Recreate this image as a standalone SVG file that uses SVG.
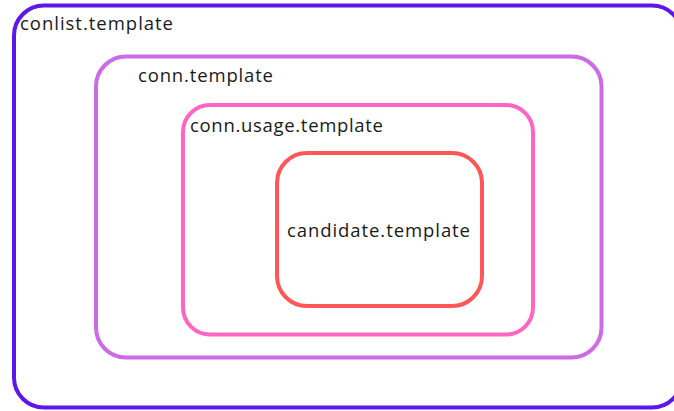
<svg xmlns="http://www.w3.org/2000/svg" width="674" height="411" viewBox="0 0 674 411">
  <style>
    .box { fill: none; stroke-width: 4; }
    .label { font-family: "Open Sans", "Liberation Sans", sans-serif; font-size: 18.5px; fill: #1a1a1a; }
  </style>
  <rect width="674" height="411" fill="#ffffff"/>
  <g id="conlist">
    <rect class="box" x="14" y="5.5" width="668" height="402" rx="30" stroke="#5e17eb"/>
    <text class="label" x="20" y="30" textLength="153" lengthAdjust="spacing">conlist.template</text>
  </g>
  <g id="conn">
    <rect class="box" x="96" y="56.5" width="505.5" height="301" rx="30" stroke="#cb6ce6"/>
    <text class="label" x="138" y="82" textLength="135" lengthAdjust="spacing">conn.template</text>
  </g>
  <g id="conn-usage">
    <rect class="box" x="183" y="105" width="350" height="229.5" rx="27" stroke="#ff66c4"/>
    <text class="label" x="190" y="132" textLength="193" lengthAdjust="spacing">conn.usage.template</text>
  </g>
  <g id="candidate">
    <rect class="box" x="277" y="153" width="205" height="153" rx="30" stroke="#ff5757"/>
    <text class="label" x="287" y="237" textLength="183" lengthAdjust="spacing">candidate.template</text>
  </g>
  <g id="connectors"/>
</svg>
